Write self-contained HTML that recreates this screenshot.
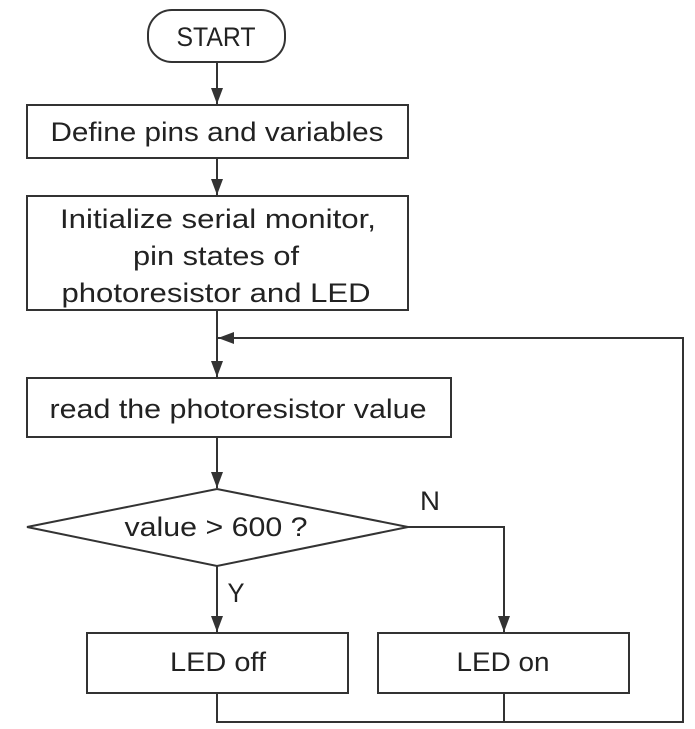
<!DOCTYPE html>
<html><head><meta charset="utf-8"><style>
html,body{margin:0;padding:0;background:#fff;}
svg{display:block;}
text{font-family:"Liberation Sans",sans-serif;font-size:27px;fill:#222;}
</style></head><body>
<svg width="695" height="729" viewBox="0 0 695 729" xmlns="http://www.w3.org/2000/svg">
<defs><marker id="a" viewBox="0 0 10 10" refX="10" refY="5" markerWidth="16" markerHeight="12" markerUnits="userSpaceOnUse" orient="auto" preserveAspectRatio="none"><path d="M0,0 L10,5 L0,10 z" fill="#333"/></marker>
<marker id="b" viewBox="0 0 10 10" refX="10" refY="5" markerWidth="16" markerHeight="12" markerUnits="userSpaceOnUse" orient="auto" preserveAspectRatio="none"><path d="M0,0 L10,5 L0,10 z" fill="#333"/></marker></defs>
<g fill="none" stroke="#333" stroke-width="2">
<rect x="148" y="10" width="137" height="52" rx="24"/>
<rect x="27" y="105" width="381" height="53"/>
<rect x="27" y="196" width="381" height="114"/>
<rect x="27" y="378" width="424" height="59"/>
<polygon points="27,527 217,489 408,527 217,566"/>
<rect x="87" y="633" width="261" height="60"/>
<rect x="378" y="633" width="251" height="60"/>
<line x1="217" y1="62" x2="217" y2="104" marker-end="url(#b)"/>
<line x1="217" y1="158" x2="217" y2="195" marker-end="url(#b)"/>
<line x1="217" y1="310" x2="217" y2="377" marker-end="url(#b)"/>
<line x1="217" y1="437" x2="217" y2="488" marker-end="url(#b)"/>
<line x1="217" y1="566" x2="217" y2="632" marker-end="url(#b)"/>
<polyline points="408,527 504,527 504,632" marker-end="url(#b)"/>
<polyline points="217,693 217,722 683,722 683,338 218,338" marker-end="url(#a)"/>
<line x1="504" y1="693" x2="504" y2="722"/>
</g>
<g text-anchor="middle">
<text x="216" y="46" textLength="79" lengthAdjust="spacingAndGlyphs">START</text>
<text x="217" y="141" textLength="333" lengthAdjust="spacingAndGlyphs">Define pins and variables</text>
<text x="218" y="228" textLength="316" lengthAdjust="spacingAndGlyphs">Initialize serial monitor,</text>
<text x="216" y="265" textLength="166" lengthAdjust="spacingAndGlyphs">pin states of</text>
<text x="216" y="302" textLength="309" lengthAdjust="spacingAndGlyphs">photoresistor and LED</text>
<text x="238" y="418" textLength="377" lengthAdjust="spacingAndGlyphs">read the photoresistor value</text>
<text x="216" y="536" textLength="183" lengthAdjust="spacingAndGlyphs">value  &gt;  600 ?</text>
<text x="218" y="671" textLength="96" lengthAdjust="spacingAndGlyphs">LED off</text>
<text x="503" y="671" textLength="93" lengthAdjust="spacingAndGlyphs">LED on</text>
<text x="430" y="510" textLength="20" lengthAdjust="spacingAndGlyphs">N</text>
<text x="236" y="602" textLength="17" lengthAdjust="spacingAndGlyphs">Y</text>
</g>
</svg>
</body></html>
